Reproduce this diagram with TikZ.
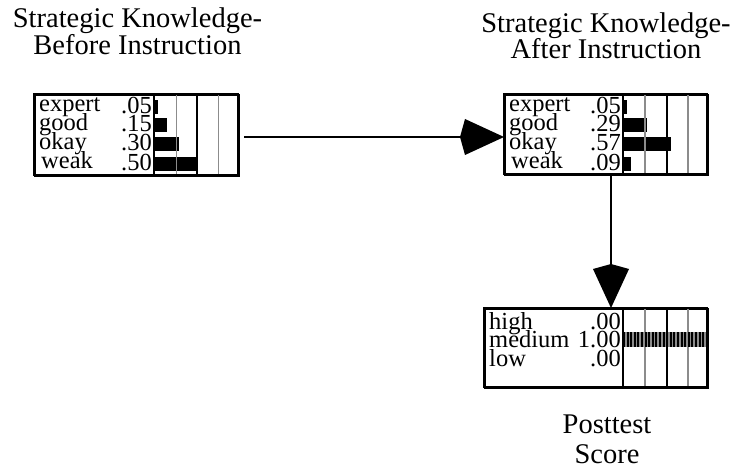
\documentclass[tikz,border=0pt]{standalone}
\usepackage{fontspec}
\setmainfont{Liberation Serif}
\usetikzlibrary{arrows.meta}
\tikzset{
  frame/.style={draw, line width=2pt, inner sep=0pt, anchor=north west},
  divider/.style={line width=2pt},
  gridg/.style={draw=black!45, line width=1.5pt},
  gridk/.style={draw=black, line width=1.6pt},
  bar/.style={fill=black},
  lbl/.style={inner sep=0pt, anchor=base west, font=\fontsize{24.5}{24.5}\selectfont},
  num/.style={inner sep=0pt, anchor=base east, font=\fontsize{24.5}{24.5}\selectfont},
  ttl/.style={inner sep=0pt, anchor=base, font=\fontsize{28.5}{28.5}\selectfont},
  conn/.style={line width=2pt, -{Kite[length=44pt,width=36pt,inset=5pt]}},
}
\begin{document}
\begin{tikzpicture}[x=1pt,y=-1pt]
\useasboundingbox (0,0) rectangle (735,470);
% titles
\node[ttl] (t1a) at (137.5,27.5) {Strategic Knowledge-};
\node[ttl] (t1b) at (137.5,55) {Before Instruction};
\node[ttl] (t2a) at (606,33) {Strategic Knowledge-};
\node[ttl] (t2b) at (606,59) {After Instruction};
\node[ttl] (t3a) at (607,433) {Posttest};
\node[ttl] (t3b) at (607,463) {Score};

% ---------- box 1 ----------
\node[frame, minimum width=204pt, minimum height=81pt] (b1) at (34,94) {};
\fill[bar] (154,100) rectangle ++(4.2,14);
\fill[bar] (154,118.5) rectangle ++(12.6,14);
\fill[bar] (154,137.5) rectangle ++(25.2,14);
\fill[bar] (154,157) rectangle ++(43,14);
\draw[gridg] (176.5,94) -- (176.5,175);
\draw[gridk] (197,94) -- (197,175);
\draw[gridg] (218.5,94) -- (218.5,175);
\draw[divider] (154,94) -- (154,175);
\draw[line width=2pt] (34,94) rectangle (238,175);
\node[lbl] (b1l1) at (39,112) {expert};
\node[lbl] (b1l2) at (39,130.5) {good};
\node[lbl] (b1l3) at (39,149.5) {okay};
\node[lbl] (b1l4) at (41,169) {weak};
\node[num] (b1n1) at (152,113.5) {.05};
\node[num] (b1n2) at (152,132) {.15};
\node[num] (b1n3) at (152,151) {.30};
\node[num] (b1n4) at (152,171) {.50};

% ---------- box 2 ----------
\node[frame, minimum width=203pt, minimum height=80pt] (b2) at (504,94) {};
\fill[bar] (623,100) rectangle ++(4.2,14);
\fill[bar] (623,118.5) rectangle ++(24.4,14);
\fill[bar] (623,137.5) rectangle ++(47.9,14);
\fill[bar] (623,157) rectangle ++(7.6,14);
\draw[gridg] (645,94) -- (645,174);
\draw[gridk] (667,94) -- (667,174);
\draw[gridg] (688,94) -- (688,174);
\draw[divider] (623,94) -- (623,174);
\draw[line width=2pt] (504,94) rectangle (707,174);
\node[lbl] (b2l1) at (509,112) {expert};
\node[lbl] (b2l2) at (509,130.5) {good};
\node[lbl] (b2l3) at (509,149.5) {okay};
\node[lbl] (b2l4) at (511,169) {weak};
\node[num] (b2n1) at (621,113.5) {.05};
\node[num] (b2n2) at (621,132) {.29};
\node[num] (b2n3) at (621,151) {.57};
\node[num] (b2n4) at (621,171) {.09};

% ---------- box 3 ----------
\node[frame, minimum width=223pt, minimum height=79pt] (b3) at (484,308) {};
\fill[black!45] (623,332) rectangle (707,347);
\draw[line width=15pt, dash pattern=on 2pt off 1.6pt] (623,339.5) -- (707,339.5);
\draw[gridg] (645,308) -- (645,332) (645,347) -- (645,387);
\draw[gridk] (667,308) -- (667,387);
\draw[gridg] (688,308) -- (688,332) (688,347) -- (688,387);
\draw[divider] (623,308) -- (623,387);
\draw[line width=2pt] (484,308) rectangle (707,387);
\node[lbl] (b3l1) at (489,329) {high};
\node[lbl] (b3l2) at (489,347.5) {medium};
\node[lbl] (b3l3) at (489,366) {low};
\node[num] (b3n1) at (621,329) {.00};
\node[num] (b3n2) at (621,347.5) {1.00};
\node[num] (b3n3) at (621,366) {.00};

% ---------- connectors ----------
\coordinate (s1) at (244,137);
\draw[conn] (s1) -- (b2.west |- s1);
\coordinate (vx) at (611,0);
\draw[conn] (b2.south -| vx) -- (b3.north -| vx);
\end{tikzpicture}
\end{document}
